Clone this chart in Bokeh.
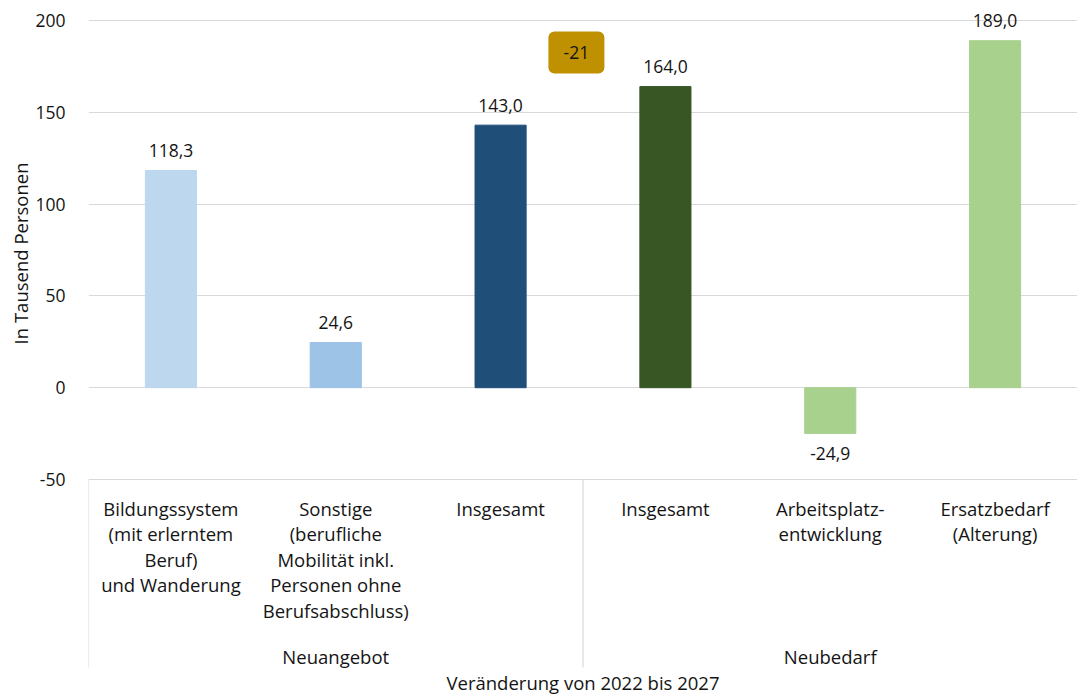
from bokeh.plotting import figure
from bokeh.models import ColumnDataSource, FixedTicker, Title
from bokeh.core.properties import value
from bokeh.embed import file_html
from bokeh.resources import INLINE

# ---------------- data ----------------
categories = [
    "Bildungssystem\n(mit erlerntem\nBeruf)\nund Wanderung",
    "Sonstige\n(berufliche\nMobilität inkl.\nPersonen ohne\nBerufsabschluss)",
    "Insgesamt",
    "Insgesamt",
    "Arbeitsplatz-\nentwicklung",
    "Ersatzbedarf\n(Alterung)",
]
groups = ["Neuangebot", "Neubedarf"]
group_sizes = [3, 3]
values = [118.3, 24.6, 143.0, 164.0, -24.9, 189.0]
colors = ["#BDD7EE", "#9DC3E6", "#1F4E79", "#375623", "#A9D18E", "#A9D18E"]
y_ticks = [-50, 0, 50, 100, 150, 200]
y_tick_labels = ["-50", "0", "50", "100", "150", "200"]
gap_label = "-21"
axis_title = "Veränderung von 2022 bis 2027"
y_title = "In Tausend Personen"

FONT = "Open Sans"
FS_NUM = "17.5px"
FS_TXT = "18.5px"
TXT = "#141414"

W, H = 1077, 697
LEFT, TOP = 88, 4
PX_PER_UNIT = (479 - 20) / 250.0   # vertical scale
Y_END = 200 + (20 - TOP) / PX_PER_UNIT
Y_START = -50 - (H - 479) / PX_PER_UNIT


def py(pix):
    """vertical pixel position (from top) -> data value"""
    return 200 - (pix - 20) / PX_PER_UNIT


def fmt(v):
    return f"{v:.1f}".replace(".", ",")


xs = [i + 0.5 for i in range(len(values))]
src = ColumnDataSource(dict(
    x=xs, top=values, color=colors,
    lab=[fmt(v) for v in values],
    off=[-20 if v >= 0 else 20 for v in values],
    cat=categories,
))

p = figure(width=W, height=H, output_backend="svg", toolbar_location=None,
           x_range=(0, 6), y_range=(Y_START, Y_END), x_axis_location=None,
           min_border_left=LEFT, min_border_right=0, min_border_top=TOP,
           min_border_bottom=0, outline_line_color=None)

p.xgrid.visible = False
p.ygrid.ticker = FixedTicker(ticks=y_ticks)
p.ygrid.grid_line_color = "#D9D9D9"
p.ygrid.grid_line_width = 1

ax = p.yaxis[0]
ax.ticker = FixedTicker(ticks=y_ticks)
ax.major_label_overrides = {t: l for t, l in zip(y_ticks, y_tick_labels)}
ax.axis_line_color = None
ax.major_tick_line_color = None
ax.minor_tick_line_color = None
ax.major_tick_in = 0
ax.major_tick_out = 0
ax.major_label_standoff = 23
ax.major_label_text_font = FONT
ax.major_label_text_font_size = FS_NUM
ax.major_label_text_color = TXT

# y axis title (vertical, centred on the value area)
t = Title(text=y_title, align="right", offset=158, standoff=0,
          text_font=FONT, text_font_size=FS_TXT, text_font_style="normal",
          text_color=TXT)
p.add_layout(t, "left")

# bars
p.vbar(x="x", top="top", bottom=0, width=0.31, color="color", source=src)

# value labels
p.text(x="x", y="top", text="lab", y_offset="off", source=src,
       text_align="center", text_baseline="middle",
       text_font=value(FONT), text_font_size=FS_NUM, text_color=TXT)

# category box lines
sep_x = [0]
acc = 0
for g in group_sizes[:-1]:
    acc += g
    sep_x.append(acc)
p.segment(x0=sep_x, y0=[-50] * len(sep_x), x1=sep_x, y1=[py(667)] * len(sep_x),
          line_color="#D9D9D9", line_width=1.2)

# category labels
p.text(x="x", y=py(495), text="cat", source=src,
       text_align="center", text_baseline="top", text_line_height=1.02,
       text_font=value(FONT), text_font_size=FS_TXT, text_color=TXT)

# group labels
gx = []
acc = 0
for g in group_sizes:
    gx.append(acc + g / 2)
    acc += g
p.text(x=gx, y=[py(656)] * len(gx), text=groups,
       text_align="center", text_baseline="middle",
       text_font=value(FONT), text_font_size=FS_TXT, text_color=TXT)

# axis title
p.text(x=[3.0], y=[py(682)], text=[axis_title],
       text_align="center", text_baseline="middle",
       text_font=value(FONT), text_font_size=FS_TXT, text_color=TXT)

# difference badge
p.rect(x=[2.96], y=[py(52)], width=56, height=42, width_units="screen",
       height_units="screen", fill_color="#BF9000", line_color=None,
       border_radius=6)
p.text(x=[2.96], y=[py(52)], text=[gap_label], text_align="center",
       text_baseline="middle", text_font=value(FONT), text_font_size=FS_NUM,
       text_color=TXT)

open("out.html", "w").write(file_html(p, INLINE))
